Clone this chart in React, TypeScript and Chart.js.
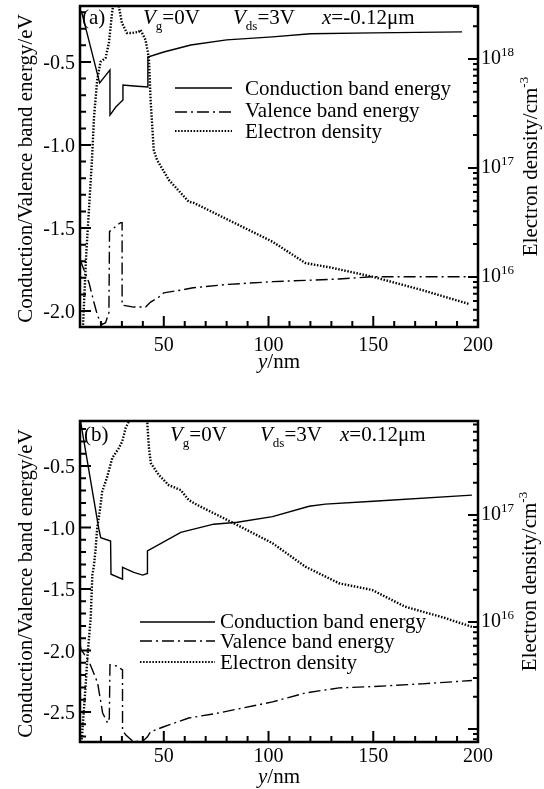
import React, { useEffect, useRef } from 'react';
import { Chart, registerables } from 'chart.js';

Chart.register(...registerables);

const SERIF = '"Liberation Serif", "Times New Roman", Times, serif';

// ---------- shared axis data ----------
const X_MIN = 10;
const X_MAX = 200;
const xTickLabels = [50, 100, 150, 200];
const legendLabels = ['Conduction band energy', 'Valence band energy', 'Electron density'];

// ---------- panel (a): x = -0.12 um ----------
const aCondNm = [10, 10.8, 19.4, 24.3, 24.3, 27.1, 30.5, 30.5, 35.7, 42.4, 42.4, 50, 62.9, 80, 101.9, 120, 150, 192.4];
const aCondE = [-0.19, -0.2, -0.627, -0.548, -0.82, -0.771, -0.729, -0.639, -0.645, -0.651, -0.47, -0.44, -0.398, -0.367, -0.349, -0.33, -0.325, -0.319];

const aValNm = [10, 14.3, 16.7, 18.2, 19.8, 20.6, 22.2, 23.8, 24.1, 25.4, 27.8, 29.4, 30.1, 30.1, 35.7, 41.3, 43.7, 47.6, 50, 58.6, 64, 80, 102, 133.6, 150, 195.6];
const aValE = [-1.69, -1.83, -1.95, -2.02, -2.07, -2.08, -2.07, -2.01, -1.52, -1.51, -1.48, -1.468, -1.468, -1.964, -1.976, -1.976, -1.946, -1.916, -1.89, -1.873, -1.86, -1.84, -1.823, -1.807, -1.793, -1.793];

const aDenNm = [10.5, 11.4, 12.9, 15.7, 16.7, 18.2, 19.8, 22.2, 23.8, 25.3, 27, 28.6, 30, 32.4, 34.8, 38, 38.9, 41.3, 42.9, 43.7, 45.2, 46.8, 52.4, 61.9, 64.3, 102, 117.6, 130.5, 150, 173, 195.6];
const aDenV = [3.0e15, 3.4e15, 1.52e16, 1.18e17, 2.94e17, 6.4e17, 9.4e17, 1.02e18, 1.4e18, 2.64e18, 4.5e18, 3.0e18, 2.14e18, 1.73e18, 1.73e18, 1.77e18, 1.85e18, 1.49e18, 1.02e18, 4.2e17, 1.46e17, 1.18e17, 7.77e16, 4.9e16, 4.78e16, 2.1e16, 1.34e16, 1.21e16, 1.0e16, 7.6e15, 5.65e15];

const aEnergyLabels = [-0.5, -1.0, -1.5, -2.0];
const aDensityExps = [16, 17, 18];

// ---------- panel (b): x = 0.12 um ----------
const bCondNm = [10, 19.0, 19.9, 24.6, 24.8, 30.3, 30.3, 35.7, 39.9, 42.2, 42.2, 58.1, 73.8, 85.1, 101.9, 119.4, 127.1, 150, 197.1];
const bCondE = [-0.11, -1.014, -1.082, -1.11, -1.38, -1.42, -1.324, -1.365, -1.387, -1.373, -1.19, -1.039, -0.973, -0.957, -0.912, -0.827, -0.81, -0.786, -0.737];

const bValNm = [10, 10.5, 14.3, 18.4, 20.8, 23.2, 24.0, 24.3, 27.1, 30.3, 30.3, 31.9, 35.7, 40.5, 42.2, 43.7, 50, 61.9, 75.6, 101.9, 117.6, 133.7, 150.3, 173.3, 197.1];
const bValE = [-1.95, -1.99, -2.09, -2.263, -2.508, -2.59, -2.549, -2.116, -2.124, -2.157, -2.647, -2.688, -2.745, -2.729, -2.702, -2.661, -2.62, -2.549, -2.51, -2.418, -2.345, -2.304, -2.293, -2.271, -2.244];

const bDenNm = [10.5, 11.1, 12.7, 13.5, 15.1, 15.9, 16.7, 17.5, 18.2, 19.4, 20.6, 23.0, 25.4, 28.6, 30.1, 31.8, 33.3, 37.5, 42.1, 42.9, 43.8, 47.6, 52.4, 58.1, 61.9, 66.0, 83.5, 101.9, 117.6, 133.7, 149.5, 165.2, 184.3, 197.1];
const bDenV = [7.0e14, 9.4e14, 2.58e15, 4.6e15, 1.09e16, 2.75e16, 3.41e16, 4.92e16, 7.56e16, 1.07e17, 1.65e17, 2.28e17, 3.41e17, 4.23e17, 4.84e17, 6.5e17, 7.45e17, 1.1e18, 7.45e17, 4.23e17, 3.06e17, 2.37e17, 1.9e17, 1.71e17, 1.38e17, 1.24e17, 8.36e16, 5.45e16, 3.29e16, 2.3e16, 1.99e16, 1.39e16, 1.09e16, 9.0e15];

const bEnergyLabels = [-0.5, -1.0, -1.5, -2.0, -2.5];
const bDensityExps = [16, 17];

// ---------- helpers ----------
type Part = { t: string; i?: boolean; sub?: boolean; sup?: boolean };

function partFont(p: Part, size: number) {
  const s = p.sub || p.sup ? Math.round(size * 0.64) : size;
  return `${p.i ? 'italic ' : ''}${s}px ${SERIF}`;
}
function richWidth(ctx: CanvasRenderingContext2D, parts: Part[], size: number) {
  let w = 0;
  for (const p of parts) {
    ctx.font = partFont(p, size);
    w += ctx.measureText(p.t).width;
  }
  return w;
}
function drawRich(ctx: CanvasRenderingContext2D, parts: Part[], x: number, y: number, size: number) {
  let cx = x;
  ctx.textAlign = 'left';
  ctx.textBaseline = 'alphabetic';
  for (const p of parts) {
    ctx.font = partFont(p, size);
    const dy = p.sub ? size * 0.3 : p.sup ? -size * 0.42 : 0;
    ctx.fillText(p.t, cx, y + dy);
    cx += ctx.measureText(p.t).width;
  }
}

const zip = (xs: number[], ys: number[]) => xs.map((x, i) => ({ x, y: ys[i] }));

const DASHDOT = [12, 4, 2, 4];
const DOTTED = [1.5, 1.6];

type PanelSpec = {
  height: number;
  pad: { left: number; right: number; top: number; bottom: number };
  eMin: number;
  eMax: number;
  dMin: number;
  dMax: number;
  condNm: number[];
  condE: number[];
  valNm: number[];
  valE: number[];
  denNm: number[];
  denV: number[];
  energyLabels: number[];
  densityExps: number[];
  xLabelGap: number;
  rightTitleX: number;
  header: { x: number; parts: Part[] }[];
  headerY: number;
  legend: { x0: number; x1: number; tx: number; rows: { ly: number; by: number }[] };
};

const SIZE = 21;
const TICK = 20;

function decorPlugin(p: PanelSpec) {
  return {
    id: 'decor',
    afterDatasetsDraw(chart: any) {
      const ctx: CanvasRenderingContext2D = chart.ctx;
      const a = chart.chartArea;
      const xs = chart.scales.x;
      const ys = chart.scales.y;
      const ds = chart.scales.y2;
      ctx.save();
      ctx.fillStyle = '#000';
      ctx.strokeStyle = '#000';
      ctx.setLineDash([]);

      // tick marks (inward)
      ctx.lineWidth = 2;
      ctx.beginPath();
      for (let v = X_MIN; v <= X_MAX + 1e-6; v += 10) {
        const px = xs.getPixelForValue(v);
        const len = v % 50 === 0 ? 11 : 6;
        ctx.moveTo(px, a.bottom);
        ctx.lineTo(px, a.bottom - len);
      }
      const k0 = Math.ceil(p.eMin * 10 - 1e-6);
      const k1 = Math.floor(p.eMax * 10 + 1e-6);
      for (let k = k0; k <= k1; k++) {
        const py = ys.getPixelForValue(k / 10);
        const len = k % 5 === 0 ? 11 : 6;
        ctx.moveTo(a.left, py);
        ctx.lineTo(a.left + len, py);
      }
      const e0 = Math.floor(Math.log10(p.dMin));
      const e1 = Math.ceil(Math.log10(p.dMax));
      for (let e = e0; e <= e1; e++) {
        for (let m = 1; m <= 9; m++) {
          const v = m * Math.pow(10, e);
          if (v < p.dMin || v > p.dMax) continue;
          const py = ds.getPixelForValue(v);
          const len = m === 1 ? 10 : 5;
          ctx.moveTo(a.right, py);
          ctx.lineTo(a.right - len, py);
        }
      }
      ctx.stroke();

      // frame
      ctx.lineWidth = 2.5;
      ctx.strokeRect(a.left, a.top, a.right - a.left, a.bottom - a.top);

      // x tick labels
      ctx.font = `${TICK}px ${SERIF}`;
      ctx.textAlign = 'center';
      ctx.textBaseline = 'alphabetic';
      for (const v of xTickLabels) {
        ctx.fillText(String(v), xs.getPixelForValue(v), a.bottom + p.xLabelGap);
      }
      // energy labels
      ctx.textAlign = 'right';
      ctx.textBaseline = 'middle';
      for (const v of p.energyLabels) {
        ctx.fillText(v.toFixed(1), a.left - 5, ys.getPixelForValue(v) + 2);
      }
      // density labels
      for (const e of p.densityExps) {
        const py = ds.getPixelForValue(Math.pow(10, e));
        drawRich(ctx, [{ t: '10' }, { t: String(e), sup: true }], a.right + 3, py + 5, TICK);
      }

      // x title
      const xt: Part[] = [{ t: 'y', i: true }, { t: '/nm' }];
      const xw = richWidth(ctx, xt, SIZE);
      drawRich(ctx, xt, (a.left + a.right) / 2 - xw / 2, a.bottom + 41, SIZE);

      // left title
      const midY = (a.top + a.bottom) / 2;
      const lt: Part[] = [{ t: 'Conduction/Valence band energy/eV' }];
      const lw = richWidth(ctx, lt, SIZE);
      ctx.save();
      ctx.translate(31.5, midY + 2);
      ctx.rotate(-Math.PI / 2);
      drawRich(ctx, lt, -lw / 2, 0, SIZE);
      ctx.restore();

      // right title
      const rt: Part[] = [{ t: 'Electron density/cm' }, { t: '-3', sup: true }];
      const rw = richWidth(ctx, rt, SIZE);
      ctx.save();
      ctx.translate(p.rightTitleX, midY);
      ctx.rotate(-Math.PI / 2);
      drawRich(ctx, rt, -rw / 2, 0, SIZE);
      ctx.restore();

      // header annotations
      for (const h of p.header) drawRich(ctx, h.parts, h.x, p.headerY, SIZE);

      // legend
      const styles = [
        { dash: [] as number[], w: 1.4 },
        { dash: DASHDOT, w: 1.4 },
        { dash: DOTTED, w: 2 },
      ];
      p.legend.rows.forEach((r, i) => {
        ctx.save();
        ctx.lineWidth = styles[i].w;
        ctx.setLineDash(styles[i].dash);
        ctx.beginPath();
        ctx.moveTo(p.legend.x0, r.ly);
        ctx.lineTo(p.legend.x1, r.ly);
        ctx.stroke();
        ctx.restore();
        drawRich(ctx, [{ t: legendLabels[i] }], p.legend.tx, r.by, SIZE);
      });

      ctx.restore();
    },
  };
}

function makeConfig(p: PanelSpec): any {
  return {
    type: 'line',
    data: {
      datasets: [
        {
          label: legendLabels[0],
          data: zip(p.condNm, p.condE),
          yAxisID: 'y',
          borderColor: '#000',
          borderWidth: 1.4,
          pointRadius: 0,
          tension: 0,
          fill: false,
          clip: 0,
        },
        {
          label: legendLabels[1],
          data: zip(p.valNm, p.valE),
          yAxisID: 'y',
          borderColor: '#000',
          borderWidth: 1.4,
          borderDash: DASHDOT,
          pointRadius: 0,
          tension: 0,
          fill: false,
          clip: 0,
        },
        {
          label: legendLabels[2],
          data: zip(p.denNm, p.denV),
          yAxisID: 'y2',
          borderColor: '#000',
          borderWidth: 2.4,
          borderDash: DOTTED,
          pointRadius: 0,
          tension: 0,
          fill: false,
          clip: 0,
        },
      ],
    },
    options: {
      responsive: false,
      maintainAspectRatio: false,
      animation: false,
      events: [],
      layout: { padding: p.pad },
      plugins: { legend: { display: false }, tooltip: { enabled: false } },
      scales: {
        x: { type: 'linear', min: X_MIN, max: X_MAX, display: false },
        y: { type: 'linear', min: p.eMin, max: p.eMax, display: false },
        y2: { type: 'logarithmic', min: p.dMin, max: p.dMax, display: false, position: 'right' },
      },
    },
    plugins: [decorPlugin(p)],
  };
}

const panelA: PanelSpec = {
  height: 390,
  pad: { left: 80, right: 66, top: 6, bottom: 63 },
  eMin: -2.096,
  eMax: -0.163,
  dMin: 3.47e15,
  dMax: 3.06e18,
  condNm: aCondNm,
  condE: aCondE,
  valNm: aValNm,
  valE: aValE,
  denNm: aDenNm,
  denV: aDenV,
  energyLabels: aEnergyLabels,
  densityExps: aDensityExps,
  xLabelGap: 24,
  rightTitleX: 537,
  headerY: 24,
  header: [
    { x: 82, parts: [{ t: '(a)' }] },
    { x: 143, parts: [{ t: 'V', i: true }, { t: 'g', sub: true }, { t: '=0V' }] },
    { x: 233, parts: [{ t: 'V', i: true }, { t: 'ds', sub: true }, { t: '=3V' }] },
    { x: 322, parts: [{ t: 'x', i: true }, { t: '=-0.12\u03bcm' }] },
  ],
  legend: {
    x0: 175,
    x1: 232,
    tx: 245,
    rows: [
      { ly: 88, by: 95 },
      { ly: 112, by: 117 },
      { ly: 131, by: 138 },
    ],
  },
};

const panelB: PanelSpec = {
  height: 399,
  pad: { left: 80, right: 66, top: 31, bottom: 47 },
  eMin: -2.744,
  eMax: -0.134,
  dMin: 7.56e14,
  dMax: 7.56e17,
  condNm: bCondNm,
  condE: bCondE,
  valNm: bValNm,
  valE: bValE,
  denNm: bDenNm,
  denV: bDenV,
  energyLabels: bEnergyLabels,
  densityExps: bDensityExps,
  xLabelGap: 20,
  rightTitleX: 535.5,
  headerY: 51,
  header: [
    { x: 84, parts: [{ t: '(b)' }] },
    { x: 170, parts: [{ t: 'V', i: true }, { t: 'g', sub: true }, { t: '=0V' }] },
    { x: 260, parts: [{ t: 'V', i: true }, { t: 'ds', sub: true }, { t: '=3V' }] },
    { x: 340, parts: [{ t: 'x', i: true }, { t: '=0.12\u03bcm' }] },
  ],
  legend: {
    x0: 140,
    x1: 215,
    tx: 220,
    rows: [
      { ly: 232, by: 238 },
      { ly: 251, by: 258 },
      { ly: 272, by: 279 },
    ],
  },
};

function Panel({ spec, top }: { spec: PanelSpec; top: number }) {
  const ref = useRef<HTMLCanvasElement | null>(null);
  useEffect(() => {
    if (!ref.current) return;
    const chart = new Chart(ref.current, makeConfig(spec));
    return () => chart.destroy();
  }, [spec]);
  return (
    <canvas
      ref={ref}
      width={544}
      height={spec.height}
      style={{ position: 'absolute', left: 0, top, width: 544, height: spec.height }}
    />
  );
}

export default function App() {
  return (
    <div style={{ position: 'absolute', left: 0, top: 0, width: 544, height: 789, background: '#fff', overflow: 'hidden' }}>
      <Panel spec={panelA} top={0} />
      <Panel spec={panelB} top={390} />
    </div>
  );
}
